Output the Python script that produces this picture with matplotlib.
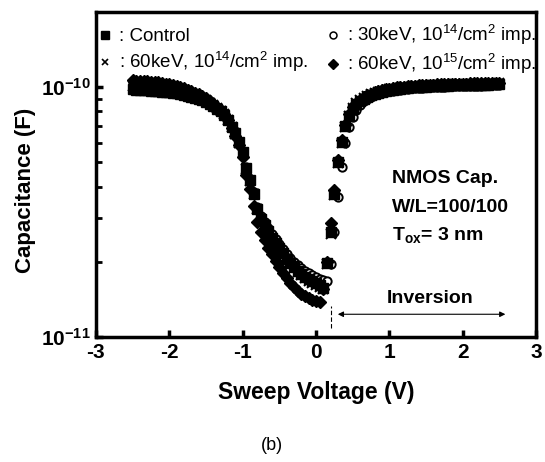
import numpy as np
import matplotlib
matplotlib.use('Agg')
import matplotlib.pyplot as plt
from matplotlib.lines import Line2D

plt.rcParams['font.family'] = ['Liberation Sans', 'DejaVu Sans']
plt.rcParams['mathtext.fontset'] = 'custom'
plt.rcParams['mathtext.rm'] = 'Liberation Sans'
plt.rcParams['mathtext.it'] = 'Liberation Sans:italic'
plt.rcParams['mathtext.bf'] = 'Liberation Sans:bold'
plt.rcParams['mathtext.default'] = 'regular'
plt.rcParams['axes.unicode_minus'] = False

# sweep voltage (V)
sweep_v = [-2.50, -2.45, -2.40, -2.35, -2.30, -2.25, -2.20, -2.15, -2.10, -2.05,
           -2.00, -1.95, -1.90, -1.85, -1.80, -1.75, -1.70, -1.65, -1.60, -1.55,
           -1.50, -1.45, -1.40, -1.35, -1.30, -1.25, -1.20, -1.15, -1.10, -1.05,
           -1.00, -0.95, -0.90, -0.85, -0.80, -0.75, -0.70, -0.65, -0.60, -0.55,
           -0.50, -0.45, -0.40, -0.35, -0.30, -0.25, -0.20, -0.15, -0.10, -0.05,
           0.00, 0.05, 0.10, 0.15, 0.20, 0.25, 0.30, 0.35, 0.40, 0.45,
           0.50, 0.55, 0.60, 0.65, 0.70, 0.75, 0.80, 0.85, 0.90, 0.95,
           1.00, 1.05, 1.10, 1.15, 1.20, 1.25, 1.30, 1.35, 1.40, 1.45,
           1.50, 1.55, 1.60, 1.65, 1.70, 1.75, 1.80, 1.85, 1.90, 1.95,
           2.00, 2.05, 2.10, 2.15, 2.20, 2.25, 2.30, 2.35, 2.40, 2.45,
           2.50]

# capacitance in units of 1e-11 F
cap_control = [9.80, 9.78, 9.76, 9.74, 9.71, 9.68, 9.65, 9.62, 9.58, 9.56,
               9.54, 9.50, 9.45, 9.39, 9.32, 9.25, 9.17, 9.08, 8.98, 8.87,
               8.74, 8.56, 8.38, 8.20, 8.00, 7.77, 7.41, 6.93, 6.55, 6.05,
               5.50, 4.75, 4.25, 3.75, 3.25, 2.98, 2.80, 2.65, 2.50, 2.38,
               2.27, 2.16, 2.06, 1.98, 1.91, 1.84, 1.79, 1.74, 1.70, 1.67,
               1.64, 1.61, 1.57, 1.98, 2.62, 3.75, 5.00, 6.05, 7.00, 7.70,
               8.20, 8.55, 8.80, 9.00, 9.17, 9.30, 9.42, 9.52, 9.60, 9.67,
               9.73, 9.78, 9.83, 9.87, 9.91, 9.94, 9.97, 10.00, 10.02, 10.04,
               10.06, 10.08, 10.10, 10.11, 10.13, 10.14, 10.15, 10.16, 10.17, 10.18,
               10.19, 10.20, 10.21, 10.22, 10.22, 10.23, 10.24, 10.24, 10.25, 10.25,
               10.26]

cap_60kev_e14 = [10.10, 10.08, 10.06, 10.04, 10.01, 9.98, 9.95, 9.92, 9.88, 9.84,
                 9.80, 9.75, 9.68, 9.60, 9.52, 9.43, 9.34, 9.24, 9.13, 9.00,
                 8.86, 8.67, 8.47, 8.27, 8.05, 7.80, 7.42, 6.93, 6.52, 6.00,
                 5.45, 4.70, 4.20, 3.72, 3.24, 2.96, 2.78, 2.62, 2.48, 2.36,
                 2.24, 2.13, 2.03, 1.95, 1.88, 1.82, 1.77, 1.72, 1.68, 1.64,
                 1.61, 1.58, 1.55, 1.96, 2.58, 3.70, 4.95, 6.00, 6.95, 7.70,
                 8.22, 8.62, 8.88, 9.08, 9.25, 9.38, 9.50, 9.60, 9.68, 9.76,
                 9.82, 9.87, 9.92, 9.96, 10.00, 10.03, 10.06, 10.09, 10.11, 10.13,
                 10.15, 10.17, 10.19, 10.20, 10.22, 10.23, 10.24, 10.25, 10.26, 10.27,
                 10.28, 10.29, 10.30, 10.31, 10.31, 10.32, 10.33, 10.33, 10.34, 10.34,
                 10.35]

cap_30kev_e14 = [10.40, 10.38, 10.36, 10.34, 10.31, 10.28, 10.25, 10.22, 10.18, 10.13,
                 10.08, 10.01, 9.93, 9.84, 9.74, 9.64, 9.53, 9.41, 9.28, 9.14,
                 8.98, 8.77, 8.56, 8.35, 8.12, 7.86, 7.48, 6.98, 6.58, 6.08,
                 5.52, 4.80, 4.30, 3.80, 3.32, 3.06, 2.88, 2.73, 2.59, 2.47,
                 2.36, 2.25, 2.15, 2.07, 2.00, 1.94, 1.89, 1.84, 1.80, 1.77,
                 1.74, 1.71, 1.69, 1.68, 1.96, 2.62, 3.64, 4.80, 5.96, 6.95,
                 7.60, 8.10, 8.50, 8.78, 8.98, 9.14, 9.27, 9.38, 9.47, 9.55,
                 9.62, 9.68, 9.73, 9.78, 9.82, 9.86, 9.89, 9.92, 9.94, 9.96,
                 9.98, 10.00, 10.02, 10.03, 10.05, 10.06, 10.07, 10.08, 10.09, 10.10,
                 10.11, 10.12, 10.13, 10.14, 10.14, 10.15, 10.16, 10.16, 10.17, 10.17,
                 10.18]

cap_60kev_e15 = [10.65, 10.63, 10.61, 10.59, 10.56, 10.53, 10.49, 10.45, 10.40, 10.34,
                 10.28, 10.20, 10.11, 10.01, 9.90, 9.78, 9.65, 9.51, 9.36, 9.20,
                 9.02, 8.80, 8.57, 8.34, 8.09, 7.80, 7.38, 6.85, 6.40, 5.88,
                 5.25, 4.45, 3.90, 3.35, 2.88, 2.62, 2.44, 2.28, 2.14, 2.02,
                 1.91, 1.81, 1.72, 1.65, 1.58, 1.53, 1.49, 1.46, 1.43, 1.41,
                 1.39, 1.38, 1.55, 2.00, 2.85, 3.87, 5.10, 6.15, 7.06, 7.80,
                 8.30, 8.65, 8.92, 9.12, 9.30, 9.43, 9.55, 9.65, 9.74, 9.81,
                 9.87, 9.92, 9.97, 10.01, 10.05, 10.08, 10.11, 10.14, 10.16, 10.18,
                 10.20, 10.22, 10.24, 10.25, 10.27, 10.28, 10.29, 10.30, 10.31, 10.32,
                 10.33, 10.34, 10.35, 10.36, 10.36, 10.37, 10.38, 10.38, 10.39, 10.39,
                 10.40]

labels = [': Control', r': 60keV, 10$^{14}$/cm$^{2}$ imp.',
          r': 30keV, 10$^{14}$/cm$^{2}$ imp.', r': 60keV, 10$^{15}$/cm$^{2}$ imp.']

v = np.array(sweep_v)

fig = plt.figure(figsize=(5.45, 4.62), dpi=100)
ax = fig.add_axes([0.176, 0.2706, 0.8075, 0.7035])

#open circles underneath so the plateaus come out as a solid black band
ax.plot(v, np.array(cap_30kev_e14) * 1e-11, ls='none', marker='o', ms=6, mfc='white', mec='black', mew=1.4)
ax.plot(v, np.array(cap_control) * 1e-11, ls='none', marker='s', ms=6.5, color='black')
ax.plot(v, np.array(cap_60kev_e14) * 1e-11, ls='none', marker='x', ms=6.5, mew=1.4, color='black')
ax.plot(v, np.array(cap_60kev_e15) * 1e-11, ls='none', marker='D', ms=6, color='black')

ax.set_yscale('log')
ax.set_xlim(-3, 3)
ax.set_ylim(1e-11, 2e-10)
ax.set_xticks([-3, -2, -1, 0, 1, 2, 3])
ax.set_xticklabels(['-3', '-2', '-1', '0', '1', '2', '3'], fontsize=15, fontweight='bold')
ax.set_yticks([1e-11, 1e-10])
ax.set_yticklabels([r'$\mathbf{10^{-11}}$', r'$\mathbf{10^{-10}}$'], fontsize=15)
ax.set_yticks([2e-11, 3e-11, 4e-11, 5e-11, 6e-11, 7e-11, 8e-11, 9e-11], minor=True)
ax.yaxis.set_minor_formatter(plt.NullFormatter())
ax.tick_params(which='both', direction='in', top=False, right=False)
ax.tick_params(which='major', length=5, width=2.5, pad=4)
ax.tick_params(which='minor', length=4, width=2)
for s in ax.spines.values():
    s.set_linewidth(2.5)

ax.set_xlabel('Sweep Voltage (V)', fontsize=16.5, fontweight='bold')
ax.xaxis.set_label_coords(0.5, -0.17)
ax.xaxis.label.set_va('center')
ax.set_ylabel('Capacitance (F)', fontsize=16, fontweight='bold')
ax.yaxis.set_label_coords(-0.16, 0.452)
ax.yaxis.label.set_va('center')

#legend
handles = [Line2D([], [], ls='none', marker='s', ms=5.5, color='black'),
           Line2D([], [], ls='none', marker='x', ms=5, mew=1.2, color='black'),
           Line2D([], [], ls='none', marker='o', ms=5, mfc='white', mec='black', mew=1.1),
           Line2D([], [], ls='none', marker='D', ms=5, color='black')]
ax.legend(handles, labels, ncol=2, loc='upper left', bbox_to_anchor=(0.0, 0.965),
          frameon=False, fontsize=13.5, handlelength=1.0, handletextpad=0.25,
          columnspacing=0.8, labelspacing=0.25, borderpad=0, borderaxespad=0)

#device info and inversion marker
ax.text(1.04, 4.29e-11, 'NMOS Cap.', fontsize=14, fontweight='bold', va='center')
ax.text(1.04, 3.31e-11, 'W/L=100/100', fontsize=14, fontweight='bold', va='center')
ax.text(1.04, 2.56e-11, r'T$_\mathbf{ox}$= 3 nm', fontsize=14, fontweight='bold', va='center')
ax.text(1.555, 1.43e-11, 'Inversion', fontsize=14, fontweight='bold', ha='center', va='center')
ax.annotate('', xy=(2.62, 1.233e-11), xytext=(0.26, 1.233e-11),
            arrowprops=dict(arrowstyle='<|-|>', lw=0.8, color='black', mutation_scale=8))
ax.plot([0.21, 0.21], [1.09e-11, 1.325e-11], color='black', lw=0.8, ls=(0, (4, 2)))

fig.text(272 / 545, 1 - 446 / 462, '(b)', ha='center', va='center', fontsize=13)

plt.savefig('out.png', dpi=100)
